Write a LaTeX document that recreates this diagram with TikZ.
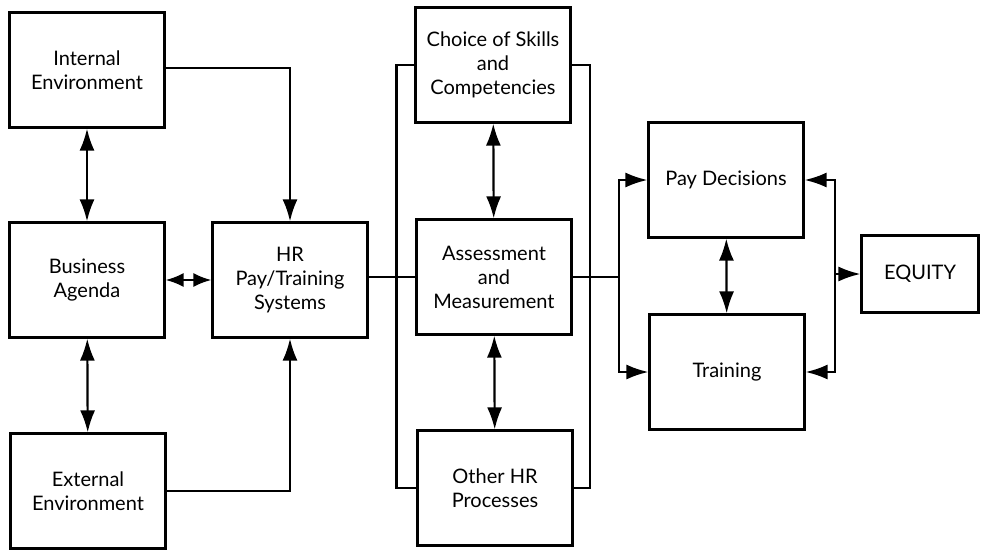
\documentclass[tikz,border=0pt]{standalone}
\usepackage{fontspec}
\setmainfont{Lato}
\usepackage{tikz}
\usetikzlibrary{positioning}
\usetikzlibrary{arrows.meta}

\begin{document}
\begin{tikzpicture}[x=1pt, y=-1pt,
every node/.style = {draw, line width=2.2pt, minimum width=155pt, minimum height=115pt,
  align=center, inner sep=2pt, font=\fontsize{20}{24}\selectfont},
link/.style = {line width=2.2pt},
>={Latex[length=22pt,width=15pt]}
]
\useasboundingbox (0,0) rectangle (985,557);
\node (internal) at (87,70) {Internal\\Environment};
\node (business) at (87,280) {Business\\Agenda};
\node (external) at (88,491) {External\\Environment};
\node (hrsys) at (290,280) {HR\\Pay/Training\\Systems};
\node (skills) at (493,65) {Choice of Skills\\and\\Competencies};
\node (assess) at (494,277) {Assessment\\and\\Measurement};
\node (otherhr) at (495,488) {Other HR\\Processes};
\node (pay) at (726,180) {Pay Decisions};
\node (training) at (727,372) {Training};
\node[minimum width=117pt, minimum height=77pt] (equity) at (920,274) {EQUITY};

\draw[link,<->] (internal) -- (business);
\draw[link,<->] (business) -- (external);
\draw[link,{Latex[length=18pt,width=14pt]}-{Latex[length=18pt,width=14pt]}] (business) -- (hrsys);
\draw[link,->] (internal.east |- 0,68) -| (hrsys.north);
\draw[link,->] (external.east) -| (hrsys.south);
\draw[link] (hrsys.east |- assess) -- (assess.west);
\draw[link,<->] (skills) -- (assess);
\draw[link,<->] (assess) -- (otherhr);
\draw[link] (skills.west) -- ++(-18,0) |- (otherhr.west);
\draw[link] (skills.east) -- ++(18,0) |- (otherhr.east);
\draw[link] (assess.east) -- ++(46,0) coordinate (split);
\draw[link,<->] (pay.west) -| (split) |- (training.west);
\draw[link,<->] (pay.east) -- ++(30,0) coordinate (join) |- (training.east);
\draw[link,->] (join |- equity) -- (equity.west);
\draw[link,<->] (pay) -- (training);
\end{tikzpicture}
\end{document}
